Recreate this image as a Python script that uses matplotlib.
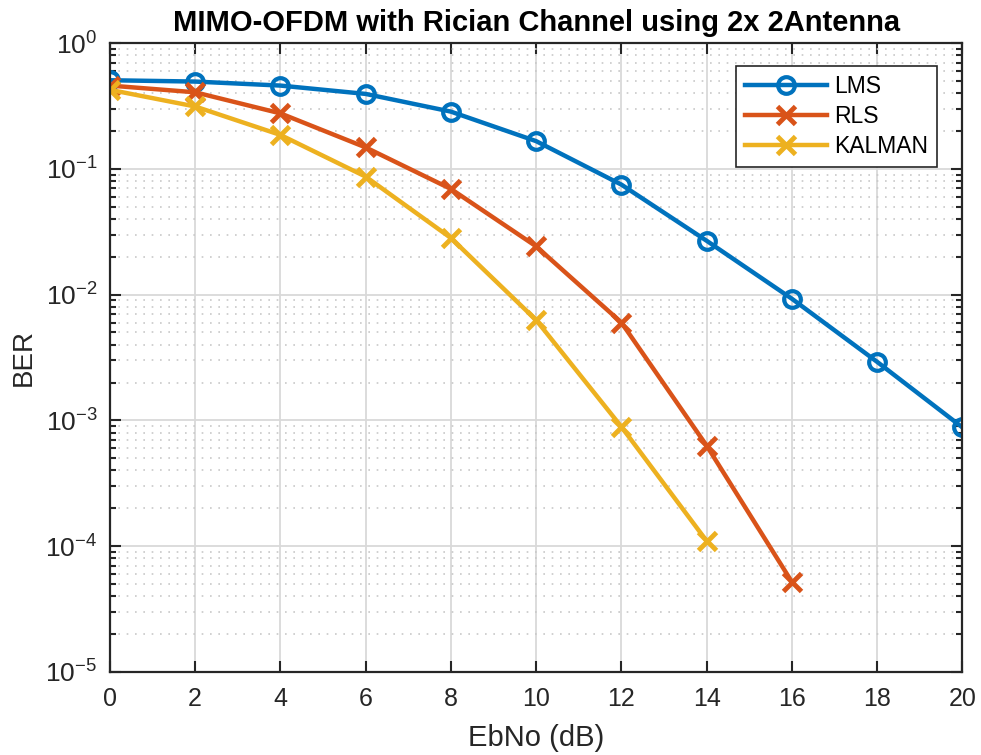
import matplotlib.pyplot as plt
import numpy as np
from matplotlib.ticker import LogLocator, NullFormatter

plt.rcParams['font.family'] = ['Liberation Sans', 'DejaVu Sans']
plt.rcParams['mathtext.fontset'] = 'custom'
plt.rcParams['mathtext.rm'] = 'Liberation Sans'

# BER vs EbNo for the three equalisers
ebno = [0, 2, 4, 6, 8, 10, 12, 14, 16, 18, 20]
ber_lms = [0.506, 0.494, 0.459, 0.394, 0.285, 0.166, 0.0749, 0.0268, 0.00927, 0.00292, 0.00088]
ebno_rls = [0, 2, 4, 6, 8, 10, 12, 14, 16]
ber_rls = [0.459, 0.406, 0.276, 0.148, 0.0692, 0.0242, 0.0060, 0.00063, 5.2e-5]
ebno_kal = [0, 2, 4, 6, 8, 10, 12, 14]
ber_kal = [0.425, 0.313, 0.186, 0.0867, 0.0282, 0.00628, 0.00089, 0.000110]

fig = plt.figure(figsize=(9.81, 7.55), dpi=100)
ax = fig.add_axes([0.112, 0.110, 0.869, 0.833])

ax.semilogy(ebno, ber_lms, '-o', color='#0072BD', lw=3.2, ms=12, mew=3,
            mfc='none', label='LMS')
ax.semilogy(ebno_rls, ber_rls, '-x', color='#D95319', lw=3.2, ms=13, mew=3.5,
            label='RLS')
ax.semilogy(ebno_kal, ber_kal, '-x', color='#EDB120', lw=3.2, ms=13, mew=3.5,
            label='KALMAN')

ax.set_xlim(0, 20)
ax.set_ylim(1e-5, 1)
ax.set_xticks(range(0, 21, 2))
ax.yaxis.set_major_locator(LogLocator(base=10, numticks=10))
ax.yaxis.set_minor_locator(LogLocator(base=10, subs=np.arange(2, 10), numticks=20))
ax.yaxis.set_minor_formatter(NullFormatter())

ax.grid(True, which='major', color='#d9d9d9', lw=1.3, ls='-')
ax.grid(True, which='minor', axis='y', color='#c8c8c8', lw=1.2, ls=(0, (1, 4)))
ax.set_axisbelow(True)

ax.tick_params(which='both', direction='in', top=True, right=True,
               colors='#262626', width=1.5)
ax.tick_params(axis='x', labelsize=18)
ax.tick_params(axis='y', labelsize=19)
ax.tick_params(which='major', length=8)
ax.tick_params(axis='x', which='major', pad=11)
ax.tick_params(axis='y', which='major', pad=9)
ax.tick_params(which='minor', length=4)
for s in ax.spines.values():
    s.set_color('#262626')
    s.set_linewidth(1.6)

ax.set_xlabel('EbNo (dB)', fontsize=21, color='#262626', labelpad=9)
ax.set_ylabel('BER', fontsize=20, color='#262626', labelpad=6)
ax.set_title('MIMO-OFDM with Rician Channel using 2x 2Antenna',
             fontsize=21, fontweight='bold', pad=9)

leg = ax.legend(loc='upper right', bbox_to_anchor=(0.9705, 0.963), fontsize=16.5,
                fancybox=False, edgecolor='#262626', framealpha=1,
                handlelength=3.6, handletextpad=0.3, labelspacing=0.3,
                borderpad=0.4, borderaxespad=0)
leg.get_frame().set_linewidth(1.2)

plt.savefig('out.png', dpi=100)
